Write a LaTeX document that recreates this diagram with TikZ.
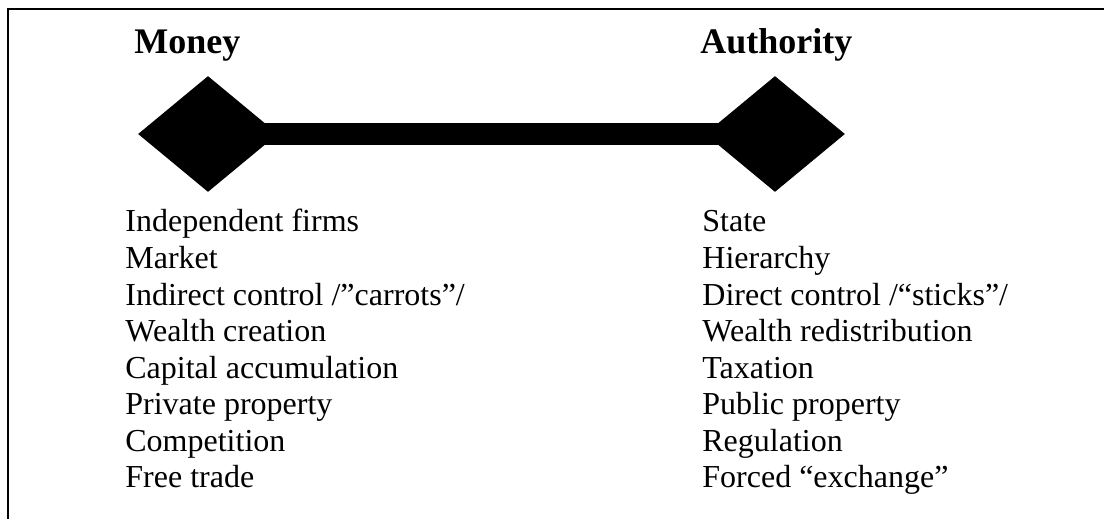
\documentclass[tikz,border=0pt]{standalone}
\usepackage{fontspec}
\setmainfont{Liberation Serif}
\usetikzlibrary{shapes.geometric}

\tikzset{
  pole/.style={diamond, fill=black, draw=none, inner sep=0pt, minimum width=70pt, minimum height=58pt},
  pole title/.style={anchor=base west, inner sep=0pt, font=\fontsize{18}{20}\selectfont\bfseries},
  item/.style={anchor=base west, inner sep=0pt, font=\fontsize{16}{16}\selectfont},
}

\begin{document}
\begin{tikzpicture}[x=0.5pt, y=-0.5pt]
\useasboundingbox (0,0) rectangle (1104,519);

% frame
\draw[line width=1pt] (8,519) -- (8,9.5) -- (1104,9.5);

% titles
\node[pole title] (money) at (134,54) {Money};
\node[pole title] (authority) at (700,54) {Authority};

% the two poles and the bar
\node[pole] (moneyd) at (208,134) {};
\node[pole] (authd) at (775,134) {};
\draw[line width=11pt] (moneyd.center) -- (authd.center);

% lists
\foreach \t [count=\i] in {Independent firms, Market, {Indirect control /”carrots”/}, Wealth creation,
    Capital accumulation, Private property, Competition, Free trade}
  \node[item] (m\i) at (125,{232+36.5*(\i-1)}) {\t};
\foreach \t [count=\i] in {State, Hierarchy, {Direct control /“sticks”/}, Wealth redistribution,
    Taxation, Public property, Regulation, Forced “exchange”}
  \node[item] (a\i) at (702,{232+36.5*(\i-1)}) {\t};
\end{tikzpicture}
\end{document}
